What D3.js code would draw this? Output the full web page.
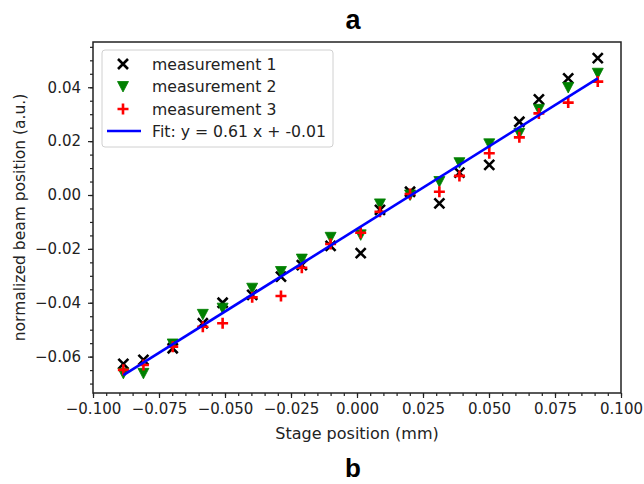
<!DOCTYPE html>
<html>
<head>
<meta charset="utf-8">
<script src="https://cdn.jsdelivr.net/npm/d3@7"></script>
<style>
  html, body { margin: 0; padding: 0; background: #fff; }
  svg { display: block; }
</style>
</head>
<body>
<svg id="chart" width="644" height="484"></svg>
<script>
// ---- data ----
const stagePositions = [-0.0885, -0.0809, -0.0698, -0.0584, -0.0509, -0.0397, -0.0288, -0.0209, -0.0100, 0.0014,
                        0.0087, 0.0201, 0.0312, 0.0388, 0.0501, 0.0615, 0.0689, 0.0800, 0.0912];
const measurement1 = [-0.0627, -0.0612, -0.0569, -0.0476, -0.0400, -0.0371, -0.0303, -0.0260, -0.0189, -0.0216,
                      -0.0055, 0.0012, -0.0031, 0.0083, 0.0112, 0.0272, 0.0355, 0.0433, 0.0508];
const measurement2 = [-0.0662, -0.0662, -0.0553, -0.0443, -0.0420, -0.0346, -0.0284, -0.0238, -0.0157, -0.0148,
                      -0.0033, 0.0000, 0.0050, 0.0120, 0.0190, 0.0229, 0.0318, 0.0399, 0.0452];
const measurement3 = [-0.0649, -0.0631, -0.0563, -0.0489, -0.0476, -0.0380, -0.0375, -0.0270, -0.0182, -0.0140,
                      -0.0062, 0.0004, 0.0012, 0.0071, 0.0155, 0.0214, 0.0303, 0.0343, 0.0421];
const fitSlope = 0.613;
const fitIntercept = -0.0126;
const seriesNames = ["measurement 1", "measurement 2", "measurement 3", "Fit: y = 0.61 x + -0.01"];
const xTicks = [-0.100, -0.075, -0.050, -0.025, 0.000, 0.025, 0.050, 0.075, 0.100];
const yTicks = [-0.06, -0.04, -0.02, 0.00, 0.02, 0.04];

// ---- layout ----
const svg = d3.select("#chart");
const L = 93, R = 621, T = 42, B = 393;
const x = d3.scaleLinear().domain([-0.1, 0.1]).range([L, R]);
const y = d3.scaleLinear().domain([-0.0735, 0.0568]).range([B, T]);
const FONT = "'DejaVu Sans', sans-serif";
const FS = 15;
const LFS = 15.7;
const fmtMinus = s => s.replace("-", "\u2212");

// minor ticks
const xMinor = d3.range(-0.1, 0.1001, 0.005);
const yMinor = d3.range(-0.07, 0.0561, 0.005);

const axX = d3.axisBottom(x).tickValues(xTicks).tickSize(5).tickPadding(5)
  .tickFormat(d => fmtMinus(d3.format(".3f")(d)));
const axXm = d3.axisBottom(x).tickValues(xMinor).tickSize(3).tickFormat("");
const axY = d3.axisLeft(y).tickValues(yTicks).tickSize(5).tickPadding(7)
  .tickFormat(d => fmtMinus(d3.format(".2f")(d)));
const axYm = d3.axisLeft(y).tickValues(yMinor).tickSize(3).tickFormat("");

function styleAxis(g) {
  g.select(".domain").remove();
  g.selectAll(".tick line").attr("stroke", "#222").attr("stroke-width", 1.2);
  g.selectAll(".tick text").attr("fill", "#222").style("font-family", FONT).style("font-size", FS + "px");
}
svg.append("g").attr("transform", `translate(0,${B})`).call(axXm).call(styleAxis);
svg.append("g").attr("transform", `translate(0,${B})`).call(axX).call(styleAxis);
svg.append("g").attr("transform", `translate(${L},0)`).call(axYm).call(styleAxis);
svg.append("g").attr("transform", `translate(${L},0)`).call(axY).call(styleAxis);

// frame
svg.append("rect").attr("x", L).attr("y", T).attr("width", R - L).attr("height", B - T)
  .attr("fill", "none").attr("stroke", "#222").attr("stroke-width", 1.5);

// markers
const plot = svg.append("g");
const symX = (g, cx, cy) => g.append("path")
  .attr("d", `M${cx-5},${cy-5}L${cx+5},${cy+5}M${cx-5},${cy+5}L${cx+5},${cy-5}`)
  .attr("stroke", "#000").attr("stroke-width", 2.6).attr("fill", "none");
const symTri = (g, cx, cy) => g.append("path")
  .attr("d", `M${cx-5.5},${cy-5}L${cx+5.5},${cy-5}L${cx},${cy+5.5}Z`)
  .attr("fill", "#008000").attr("stroke", "#008000").attr("stroke-width", 0.8);
const symPlus = (g, cx, cy) => g.append("path")
  .attr("d", `M${cx-5.5},${cy}L${cx+5.5},${cy}M${cx},${cy-5.5}L${cx},${cy+5.5}`)
  .attr("stroke", "#ff0000").attr("stroke-width", 2.6).attr("fill", "none");

stagePositions.forEach((s, i) => symX(plot, x(s), y(measurement1[i])));
stagePositions.forEach((s, i) => symTri(plot, x(s), y(measurement2[i])));
stagePositions.forEach((s, i) => symPlus(plot, x(s), y(measurement3[i])));

// fit line
const xExt = d3.extent(stagePositions);
const fitPts = xExt.map(v => [v, fitSlope * v + fitIntercept]);
plot.append("path")
  .attr("d", d3.line().x(d => x(d[0])).y(d => y(d[1]))(fitPts))
  .attr("stroke", "#0000ff").attr("stroke-width", 2.6).attr("fill", "none");

// legend
const lg = svg.append("g");
lg.append("rect").attr("x", 102).attr("y", 50).attr("width", 231).attr("height", 97)
  .attr("rx", 3).attr("fill", "#fff").attr("fill-opacity", 0.8)
  .attr("stroke", "#d0d0d0").attr("stroke-width", 1);
const ly = [64, 86.5, 109, 131];
symX(lg, 123, ly[0]);
symTri(lg, 123, ly[1]);
symPlus(lg, 123, ly[2]);
lg.append("line").attr("x1", 107).attr("x2", 141).attr("y1", ly[3]).attr("y2", ly[3])
  .attr("stroke", "#0000ff").attr("stroke-width", 2.6);
seriesNames.forEach((n, i) => {
  lg.append("text").attr("x", 152).attr("y", ly[i]).attr("dy", "0.36em")
    .style("font-family", FONT).style("font-size", LFS + "px").attr("fill", "#222").text(n);
});

// axis labels
svg.append("text").attr("x", (L + R) / 2).attr("y", 439).attr("text-anchor", "middle")
  .style("font-family", FONT).style("font-size", "16px").attr("fill", "#222").text("Stage position (mm)");
svg.append("text").attr("transform", `translate(25,${(T + B) / 2}) rotate(-90)`).attr("text-anchor", "middle")
  .style("font-family", FONT).style("font-size", "15.5px").attr("fill", "#222").text("normalized beam position (a.u.)");

// panel letters
svg.append("text").attr("x", 353).attr("y", 29).attr("text-anchor", "middle")
  .style("font-family", "'Liberation Sans', Arial, sans-serif").style("font-weight", "bold").style("font-size", "27px")
  .attr("fill", "#000").text("a");
svg.append("text").attr("x", 353).attr("y", 477).attr("text-anchor", "middle")
  .style("font-family", "'Liberation Sans', Arial, sans-serif").style("font-weight", "bold").style("font-size", "26px")
  .attr("fill", "#000").text("b");
</script>
</body>
</html>
